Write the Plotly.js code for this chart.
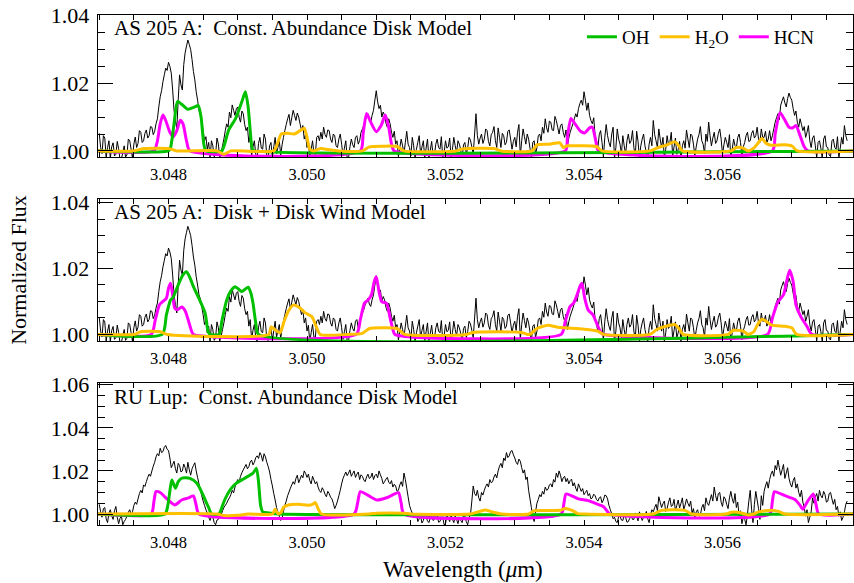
<!DOCTYPE html>
<html>
<head>
<meta charset="utf-8">
<script src="https://cdn.plot.ly/plotly-3.0.1.min.js"></script>
<style>html,body{margin:0;padding:0;background:#fff;}#chart{width:854px;height:583px;}</style>
</head>
<body>
<div id="chart"></div>
<script>
// ---- observed spectra (normalized flux), uniform wavelength grid ----
const waveStart = 3.04700;   // micron
const waveStep = 0.00002;    // micron

const as205Flux = [
1.0052,1.0010,0.9992,1.0045,1.0038,0.9980,1.0010,1.0030,0.9978,1.0012,1.0024,0.9985,0.9990,1.0028,1.0006,0.9975,0.9976,0.9995,1.0015,0.9982,
0.9988,1.0035,1.0030,1.0005,0.9979,1.0020,1.0041,1.0010,1.0022,1.0060,1.0055,1.0025,1.0030,1.0052,1.0062,1.0038,1.0045,1.0072,1.0070,1.0048,
1.0058,1.0080,1.0095,1.0130,1.0160,1.0178,1.0205,1.0225,1.0245,1.0238,1.0262,1.0250,1.0230,1.0180,1.0120,1.0090,1.0065,1.0150,1.0225,1.0195,
1.0180,1.0255,1.0290,1.0310,1.0328,1.0315,1.0300,1.0270,1.0235,1.0210,1.0175,1.0150,1.0120,1.0108,1.0085,1.0060,1.0030,1.0042,1.0005,1.0025,
0.9978,1.0030,1.0015,0.9982,0.9990,1.0038,1.0020,0.9980,0.9995,1.0015,1.0035,1.0060,1.0080,1.0070,1.0115,1.0098,1.0136,1.0120,1.0105,1.0125,
1.0130,1.0100,1.0085,1.0118,1.0110,1.0078,1.0060,1.0070,1.0025,1.0045,0.9985,1.0012,1.0030,0.9990,0.9977,1.0022,1.0040,1.0008,1.0005,1.0050,
1.0035,0.9985,0.9981,1.0015,1.0025,0.9978,1.0012,1.0040,0.9992,1.0010,1.0030,0.9988,1.0018,1.0040,1.0060,1.0078,1.0095,1.0108,1.0075,1.0098,
1.0120,1.0105,1.0090,1.0112,1.0100,1.0080,1.0060,1.0075,1.0035,1.0050,1.0010,1.0028,0.9978,1.0005,1.0030,0.9992,0.9990,1.0040,1.0045,1.0030,
1.0055,1.0035,1.0070,1.0048,1.0040,1.0062,1.0060,1.0035,1.0025,1.0050,1.0045,1.0015,1.0010,1.0035,1.0050,1.0020,0.9985,1.0008,1.0030,0.9980,
0.9980,1.0012,1.0035,1.0018,1.0010,1.0040,1.0045,1.0020,1.0030,1.0055,1.0065,1.0075,1.0090,1.0100,1.0110,1.0092,1.0085,1.0105,1.0120,1.0150,
1.0178,1.0145,1.0125,1.0135,1.0100,1.0115,1.0105,1.0082,1.0070,1.0095,1.0080,1.0055,1.0040,1.0058,1.0020,1.0030,0.9983,1.0010,1.0035,1.0015,
0.9992,1.0025,1.0058,1.0020,1.0010,0.9985,1.0040,1.0015,0.9977,1.0005,1.0025,1.0045,0.9990,1.0012,1.0030,0.9980,1.0008,1.0035,0.9978,1.0002,
1.0028,0.9986,0.9988,1.0020,1.0035,1.0010,1.0005,1.0042,0.9979,0.9995,1.0030,1.0008,1.0012,1.0038,0.9982,1.0005,1.0040,1.0015,0.9995,1.0030,
1.0020,1.0002,0.9977,1.0018,1.0025,0.9990,1.0008,1.0040,1.0032,1.0012,0.9990,1.0050,1.0110,1.0045,1.0020,1.0038,1.0050,1.0022,1.0035,1.0065,
1.0060,1.0028,1.0015,1.0048,1.0055,1.0072,1.0030,1.0010,1.0068,1.0040,1.0010,1.0052,1.0045,1.0018,1.0025,1.0058,1.0062,1.0035,1.0005,1.0028,
1.0040,1.0012,1.0055,1.0078,0.9985,1.0030,1.0065,1.0042,1.0020,1.0050,1.0035,1.0008,0.9978,1.0025,1.0030,0.9990,1.0010,1.0045,1.0050,1.0030,
1.0070,1.0052,1.0095,1.0068,1.0055,1.0088,1.0085,1.0062,1.0060,1.0102,1.0090,1.0070,1.0050,1.0075,1.0080,1.0055,1.0040,1.0062,1.0015,1.0038,
1.0055,1.0068,1.0080,1.0095,1.0110,1.0100,1.0125,1.0140,1.0150,1.0135,1.0175,1.0150,1.0120,1.0142,1.0105,1.0090,1.0080,1.0098,1.0045,1.0030,
1.0010,1.0048,1.0060,1.0025,0.9982,1.0040,1.0078,1.0045,1.0025,1.0012,1.0050,1.0070,0.9978,1.0010,1.0065,1.0035,1.0020,0.9990,1.0045,1.0015,
0.9990,1.0030,1.0050,1.0022,1.0030,1.0060,1.0010,0.9985,1.0058,1.0028,0.9980,1.0015,1.0035,1.0050,1.0015,0.9995,0.9977,1.0020,1.0040,1.0015,
1.0090,1.0048,1.0030,1.0010,1.0065,1.0035,1.0010,1.0040,0.9978,1.0005,1.0045,1.0018,1.0025,1.0055,0.9985,1.0012,1.0038,0.9990,1.0005,1.0028,
0.9979,1.0015,1.0030,1.0008,1.0062,1.0035,1.0010,1.0050,1.0045,1.0020,0.9986,1.0012,1.0035,1.0048,1.0072,1.0030,1.0020,0.9992,1.0050,1.0028,
1.0085,1.0045,1.0015,1.0038,1.0055,1.0022,1.0030,1.0052,1.0065,1.0035,0.9990,1.0018,1.0040,1.0025,1.0010,1.0048,0.9978,1.0005,1.0035,1.0015,
1.0010,1.0040,1.0050,1.0025,0.9984,1.0012,1.0025,1.0045,1.0055,1.0028,1.0030,1.0052,1.0060,1.0038,1.0045,1.0070,1.0035,1.0025,1.0065,1.0040,
1.0040,1.0058,1.0025,1.0035,1.0060,1.0030,1.0045,1.0065,1.0085,1.0098,1.0110,1.0092,1.0135,1.0148,1.0160,1.0142,1.0130,1.0155,1.0171,1.0158,
1.0150,1.0125,1.0105,1.0118,1.0085,1.0070,1.0095,1.0078,1.0060,1.0072,1.0040,1.0055,1.0075,1.0030,1.0010,1.0038,1.0045,1.0015,0.9980,1.0025,
1.0030,1.0008,0.9978,1.0035,1.0045,1.0012,1.0010,0.9988,0.9983,1.0030,1.0035,1.0010,1.0005,1.0042,0.9979,1.0008,1.0040,1.0020,1.0075,1.0045,
1.0030
];

const ruLupFlux = [
1.0045,1.0010,0.9985,1.0025,1.0030,0.9978,0.9960,1.0005,1.0020,0.9992,0.9975,1.0015,1.0035,0.9985,0.9955,0.9980,0.9990,0.9950,0.9965,0.9975,
0.9990,1.0008,1.0020,0.9998,1.0010,1.0040,1.0055,1.0045,1.0070,1.0095,1.0110,1.0098,1.0135,1.0128,1.0150,1.0170,1.0185,1.0175,1.0200,1.0222,
1.0240,1.0265,1.0280,1.0270,1.0305,1.0285,1.0290,1.0310,1.0318,1.0300,1.0295,1.0260,1.0215,1.0230,1.0245,1.0210,1.0190,1.0235,1.0225,1.0195,
1.0200,1.0232,1.0215,1.0190,1.0240,1.0205,1.0180,1.0210,1.0225,1.0238,1.0200,1.0170,1.0140,1.0112,1.0085,1.0060,1.0040,1.0020,1.0005,0.9985,
0.9970,0.9990,0.9985,0.9960,0.9950,0.9972,0.9975,0.9988,0.9995,1.0015,1.0030,1.0040,1.0050,1.0065,1.0075,1.0090,1.0110,1.0098,1.0125,1.0145,
1.0160,1.0150,1.0175,1.0192,1.0205,1.0218,1.0230,1.0210,1.0220,1.0242,1.0250,1.0228,1.0240,1.0262,1.0270,1.0258,1.0285,1.0272,1.0245,1.0280,
1.0265,1.0240,1.0220,1.0195,1.0160,1.0130,1.0095,1.0065,1.0030,1.0008,0.9990,0.9970,0.9980,1.0012,1.0040,1.0060,1.0085,1.0102,1.0120,1.0135,
1.0150,1.0138,1.0165,1.0180,1.0145,1.0162,1.0180,1.0168,1.0200,1.0188,1.0170,1.0185,1.0155,1.0140,1.0175,1.0158,1.0140,1.0150,1.0125,1.0108,
1.0100,1.0122,1.0110,1.0092,1.0080,1.0105,1.0095,1.0078,1.0070,1.0050,1.0025,1.0040,1.0060,1.0085,1.0110,1.0140,1.0165,1.0180,1.0195,1.0178,
1.0190,1.0205,1.0175,1.0188,1.0200,1.0170,1.0185,1.0195,1.0160,1.0182,1.0175,1.0158,1.0150,1.0172,1.0185,1.0165,1.0170,1.0190,1.0160,1.0178,
1.0185,1.0168,1.0200,1.0182,1.0165,1.0140,1.0150,1.0162,1.0170,1.0148,1.0140,1.0155,1.0125,1.0138,1.0130,1.0105,1.0110,1.0135,1.0150,1.0128,
1.0190,1.0160,1.0120,1.0080,1.0040,1.0020,1.0005,0.9990,0.9985,1.0002,0.9965,0.9978,0.9990,0.9958,0.9970,0.9995,0.9985,0.9968,0.9960,0.9982,
0.9990,0.9970,0.9975,1.0002,0.9995,0.9962,0.9965,0.9985,0.9985,0.9950,0.9955,0.9992,0.9980,0.9965,0.9992,0.9975,0.9960,0.9990,0.9975,0.9955,
0.9985,0.9970,0.9960,0.9995,0.9990,0.9965,0.9950,0.9985,0.9995,1.0060,1.0130,1.0095,1.0085,1.0110,1.0075,1.0060,1.0100,1.0088,1.0110,1.0128,
1.0140,1.0125,1.0160,1.0145,1.0150,1.0172,1.0185,1.0168,1.0200,1.0222,1.0235,1.0215,1.0260,1.0248,1.0285,1.0262,1.0270,1.0290,1.0295,1.0275,
1.0260,1.0240,1.0230,1.0255,1.0245,1.0215,1.0190,1.0205,1.0160,1.0172,1.0110,1.0070,1.0030,0.9985,0.9965,1.0010,1.0050,1.0068,1.0090,1.0080,
1.0105,1.0092,1.0125,1.0110,1.0115,1.0135,1.0140,1.0125,1.0160,1.0148,1.0190,1.0170,1.0200,1.0180,1.0150,1.0168,1.0175,1.0150,1.0165,1.0140,
1.0155,1.0162,1.0130,1.0145,1.0120,1.0105,1.0140,1.0122,1.0105,1.0118,1.0090,1.0100,1.0110,1.0085,1.0095,1.0070,1.0075,1.0092,1.0085,1.0068,
1.0060,1.0075,1.0080,1.0052,1.0065,1.0088,1.0085,1.0070,1.0040,1.0020,1.0000,0.9978,0.9985,0.9965,0.9960,0.9988,0.9990,0.9972,0.9970,0.9995,
0.9985,0.9962,0.9965,0.9980,0.9995,0.9975,0.9975,1.0005,0.9988,0.9968,1.0010,0.9990,0.9970,0.9985,0.9992,1.0012,0.9978,0.9960,0.9995,1.0020,
1.0010,1.0030,1.0045,1.0015,1.0080,1.0055,1.0030,1.0048,1.0060,1.0012,1.0025,1.0055,1.0075,1.0035,1.0040,1.0068,1.0015,1.0040,1.0065,1.0028,
1.0050,1.0075,1.0020,1.0042,1.0070,1.0050,1.0035,1.0060,1.0005,1.0025,0.9985,1.0010,1.0020,0.9990,0.9995,1.0030,1.0045,1.0015,1.0075,1.0050,
1.0040,1.0065,1.0090,1.0060,1.0125,1.0085,1.0060,1.0095,1.0100,1.0055,1.0035,1.0080,1.0070,1.0045,1.0025,1.0075,1.0105,1.0070,1.0050,1.0095,
1.0030,1.0055,0.9990,1.0015,0.9955,0.9985,0.9975,0.9950,1.0000,1.0060,1.0110,1.0020,0.9960,1.0045,1.0105,1.0065,1.0025,0.9975,1.0085,1.0040,
1.0105,1.0130,1.0150,1.0120,1.0160,1.0185,1.0200,1.0175,1.0225,1.0205,1.0250,1.0215,1.0180,1.0205,1.0230,1.0165,1.0190,1.0215,1.0165,1.0140,
1.0125,1.0155,1.0170,1.0120,1.0140,1.0100,1.0080,1.0110,1.0055,1.0030,0.9990,1.0020,0.9960,0.9985,1.0010,1.0075,1.0050,1.0080,1.0095,1.0060,
1.0110,1.0085,1.0075,1.0105,1.0090,1.0055,1.0060,1.0095,1.0100,1.0070,1.0045,1.0068,1.0020,1.0035,0.9990,1.0010,0.9970,0.9985,1.0010,1.0045,
1.0060
];

// ---- model spectra: [wavelength, normalized flux] ----
const ohConstDisk = [[3.04698,1],[3.04800,1],[3.04803,1.0010],[3.04808,1.0080],[3.04813,1.0146],[3.04819,1.0138],[3.04828,1.0123],[3.04838,1.0130],[3.04843,1.0134],[3.04847,1.0100],[3.04851,1.0020],[3.04854,1],
 [3.04877,1],[3.04881,1.0020],[3.04887,1.0062],[3.04897,1.0096],[3.04906,1.0146],[3.04911,1.0175],[3.04915,1.0130],[3.04918,1.0060],[3.04921,1.0005],[3.04924,1],[3.05789,1]];
const hcnConstDisk = [[3.04698,1],[3.04779,1],[3.04784,1.0030],[3.04788,1.0080],[3.04792,1.0106],[3.04796,1.0090],[3.04802,1.0055],[3.04807,1.0042],[3.04812,1.0060],[3.04817,1.0091],[3.04821,1.0080],[3.04826,1.0030],[3.04831,1],
 [3.05077,1],[3.05081,1.0050],[3.05086,1.0111],[3.05092,1.0085],[3.05100,1.0057],[3.05107,1.0075],[3.05113,1.0106],[3.05118,1.0070],[3.05122,1.0020],[3.05126,1],
 [3.05373,1],[3.05376,1.0040],[3.05381,1.0096],[3.05387,1.0080],[3.05395,1.0058],[3.05401,1.0053],[3.05408,1.0068],[3.05412,1.0070],[3.05417,1.0030],[3.05421,1],
 [3.05672,1],[3.05676,1.0050],[3.05683,1.0113],[3.05689,1.0095],[3.05696,1.0070],[3.05701,1.0068],[3.05706,1.0075],[3.05712,1.0045],[3.05718,1.0012],[3.05723,1],[3.05789,1]];
const h2oConstDisk = [[3.04698,1],[3.04750,1],[3.04765,1.0007],[3.04800,1.0007],[3.04812,1],[3.04870,1],[3.04880,0.9990],[3.04890,1],
 [3.04952,1],[3.04957,1.0020],[3.04963,1.0050],[3.04972,1.0052],[3.04982,1.0050],[3.04990,1.0060],[3.04996,1.0067],[3.05000,1.0040],[3.05004,1.0005],[3.05010,1],[3.05020,1.0007],[3.05030,1.0004],[3.05045,1],
 [3.05080,1],[3.05090,1.0012],[3.05110,1.0014],[3.05130,1.0013],[3.05140,1],[3.05215,1],[3.05225,1.0006],[3.05270,1.0007],[3.05280,1],
 [3.05325,1],[3.05332,1.0018],[3.05350,1.0020],[3.05365,1.0024],[3.05370,1.0010],[3.05376,1.0015],[3.05395,1.0015],[3.05418,1.0013],[3.05426,1],
 [3.05495,1],[3.05505,1.0008],[3.05520,1.0018],[3.05531,1.0027],[3.05537,1.0015],[3.05542,1],
 [3.05612,1],[3.05620,1.0010],[3.05630,1.0008],[3.05637,1],[3.05645,1.0008],[3.05652,1.0025],[3.05657,1.0037],[3.05663,1.0022],[3.05670,1.0017],[3.05690,1.0018],[3.05700,1.0015],[3.05708,1],[3.05789,1]];

const ohDiskWind = [[3.04698,1],[3.04791,1],[3.04797,1.0060],[3.04803,1.0105],[3.04806,1.0110],[3.04814,1.0150],[3.04820,1.0178],[3.04826,1.0190],[3.04831,1.0172],[3.04836,1.0145],[3.04845,1.0104],[3.04853,1.0064],[3.04857,1.0010],[3.04860,1],
 [3.04873,1],[3.04877,1.0040],[3.04884,1.0104],[3.04890,1.0132],[3.04896,1.0145],[3.04901,1.0138],[3.04906,1.0130],[3.04911,1.0138],[3.04915,1.0143],[3.04919,1.0125],[3.04922,1.0095],[3.04926,1.0035],[3.04930,1],[3.05789,1]];
const hcnDiskWind = [[3.04698,1],[3.04775,1],[3.04781,1.0045],[3.04787,1.0090],[3.04792,1.0100],[3.04797,1.0110],[3.04800,1.0140],[3.04803,1.0155],[3.04806,1.0120],[3.04809,1.0080],[3.04813,1.0075],[3.04819,1.0083],[3.04824,1.0072],[3.04829,1.0040],[3.04833,1.0012],[3.04836,1],
 [3.05071,1],[3.05077,1.0045],[3.05083,1.0095],[3.05088,1.0104],[3.05093,1.0120],[3.05097,1.0160],[3.05100,1.0175],[3.05104,1.0130],[3.05108,1.0099],[3.05115,1.0094],[3.05120,1.0050],[3.05124,1.0015],[3.05127,1],
 [3.05367,1],[3.05373,1.0040],[3.05380,1.0085],[3.05385,1.0095],[3.05390,1.0120],[3.05394,1.0145],[3.05397,1.0155],[3.05401,1.0110],[3.05406,1.0074],[3.05413,1.0059],[3.05419,1.0030],[3.05424,1.0008],[3.05428,1],
 [3.05665,1],[3.05672,1.0050],[3.05680,1.0099],[3.05688,1.0120],[3.05693,1.0165],[3.05697,1.0195],[3.05702,1.0160],[3.05706,1.0090],[3.05713,1.0054],[3.05722,1.0024],[3.05729,1],[3.05789,1]];
const h2oDiskWind = [[3.04698,1],[3.04750,1],[3.04760,1.0008],[3.04788,1.0008],[3.04798,1],
 [3.04945,1],[3.04948,1.0023],[3.04953,1.0015],[3.04961,1.0005],[3.04967,1.0040],[3.04973,1.0070],[3.04980,1.0089],[3.04990,1.0080],[3.04997,1.0066],[3.05007,1.0054],[3.05013,1.0025],[3.05019,1],
 [3.05060,1],[3.05080,1.0003],[3.05090,1.0018],[3.05110,1.0020],[3.05130,1.0018],[3.05141,1],[3.05230,1],[3.05240,1.0006],[3.05310,1.0006],[3.05318,1],
 [3.05322,1],[3.05332,1.0018],[3.05348,1.0028],[3.05362,1.0022],[3.05373,1.0020],[3.05400,1.0016],[3.05420,1.0010],[3.05428,1],
 [3.05495,1],[3.05505,1.0015],[3.05517,1.0024],[3.05531,1.0030],[3.05538,1.0015],[3.05543,1],
 [3.05608,1],[3.05615,1.0012],[3.05630,1.0010],[3.05637,1],[3.05645,1.0008],[3.05652,1.0035],[3.05657,1.0046],[3.05663,1.0040],[3.05671,1.0028],[3.05690,1.0025],[3.05700,1.0020],[3.05707,1],[3.05789,1]];

const ohRuLup = [[3.04698,1],[3.04795,1],[3.04799,1.0040],[3.04803,1.0130],[3.04805,1.0158],[3.04810,1.0120],[3.04814,1.0150],[3.04819,1.0166],[3.04825,1.0168],[3.04831,1.0165],[3.04841,1.0143],[3.04850,1.0088],[3.04855,1.0050],[3.04858,1.0030],[3.04862,1],
 [3.04873,1],[3.04877,1.0030],[3.04881,1.0065],[3.04889,1.0112],[3.04898,1.0143],[3.04910,1.0166],[3.04922,1.0190],[3.04927,1.0212],[3.04930,1.0150],[3.04933,1.0040],[3.04936,1.0010],[3.04945,1.0005],[3.04960,1],[3.05789,1]];
const hcnRuLup = [[3.04698,1],[3.04775,1],[3.04779,1.0060],[3.04782,1.0104],[3.04788,1.0100],[3.04797,1.0073],[3.04809,1.0042],[3.04819,1.0065],[3.04829,1.0075],[3.04836,1.0084],[3.04840,1.0040],[3.04844,1],
 [3.05068,1],[3.05073,1.0050],[3.05077,1.0104],[3.05089,1.0085],[3.05101,1.0065],[3.05117,1.0078],[3.05132,1.0099],[3.05136,1.0050],[3.05140,1],
 [3.05367,1],[3.05371,1.0050],[3.05374,1.0093],[3.05392,1.0070],[3.05406,1.0062],[3.05420,1.0045],[3.05428,1.0035],[3.05433,1.0015],[3.05437,1],
 [3.05668,1],[3.05672,1.0060],[3.05675,1.0104],[3.05690,1.0085],[3.05704,1.0068],[3.05712,1.0040],[3.05716,1.0022],[3.05723,1.0060],[3.05731,1.0093],[3.05735,1.0045],[3.05739,1],[3.05789,1]];
const h2oRuLup = [[3.04698,1],[3.04870,1],[3.04880,0.9993],[3.04900,0.9994],[3.04915,1],
 [3.04950,1],[3.04954,1.0022],[3.04958,1.0002],[3.04962,1.0005],[3.04966,1.0031],[3.04973,1.0042],[3.04987,1.0045],[3.05002,1.0041],[3.05008,1.0045],[3.05012,1.0053],[3.05016,1.0025],[3.05021,1],
 [3.05090,1],[3.05100,1.0004],[3.05140,1.0004],[3.05150,1],[3.05235,1],[3.05245,1.0008],[3.05257,1.0019],[3.05267,1.0010],[3.05281,1],
 [3.05320,1],[3.05328,1.0015],[3.05365,1.0017],[3.05373,1.0026],[3.05382,1.0018],[3.05391,1.0002],[3.05400,1],
 [3.05500,1],[3.05512,1.0017],[3.05546,1.0017],[3.05555,1],[3.05605,1],[3.05613,1.0008],[3.05622,1.0008],[3.05632,1],[3.05637,0.9995],[3.05645,1],
 [3.05652,1.0010],[3.05671,1.0018],[3.05681,1.0012],[3.05690,1],[3.05789,1]];

const panelTitles = ['AS 205 A:\u00a0 Const. Abundance Disk Model', 'AS 205 A:\u00a0 Disk + Disk Wind Model', 'RU Lup:\u00a0 Const. Abundance Disk Model'];
const speciesNames = ['OH', 'H<sub>2</sub>O', 'HCN'];
const speciesColors = ['#00C000', '#FFC000', '#FF00FF'];
const xTickStart = 3.048, xTickStep = 0.002, xMinorStep = 0.0005;
const yTickStep = 0.02, yMinorStep = 0.005;
const xTitle = 'Wavelength (<i>μ</i>m)';
const yTitle = 'Normalized Flux';

// ---- build traces ----
const traces = [];
const panels = [
  {ax: '', obs: as205Flux, oh: ohConstDisk, h2o: h2oConstDisk, hcn: hcnConstDisk},
  {ax: '2', obs: as205Flux, oh: ohDiskWind, h2o: h2oDiskWind, hcn: hcnDiskWind},
  {ax: '3', obs: ruLupFlux, oh: ohRuLup, h2o: h2oRuLup, hcn: hcnRuLup}
];
panels.forEach((p, k) => {
  const xa = 'x' + p.ax, ya = 'y' + p.ax;
  traces.push({type: 'scatter', mode: 'lines', x0: waveStart, dx: waveStep, y: p.obs,
    xaxis: xa, yaxis: ya, line: {color: 'black', width: 1, simplify: false}, showlegend: false, hoverinfo: 'skip'});
  const model = (data, idx, rank) => ({type: 'scatter', mode: 'lines',
    x: data.map(d => d[0]), y: data.map(d => d[1]), xaxis: xa, yaxis: ya,
    name: speciesNames[idx], legendrank: rank, showlegend: k === 0,
    line: {color: speciesColors[idx], width: 3, shape: 'spline', smoothing: 0.6}});
  traces.push(model(p.hcn, 2, 3));
  traces.push(model(p.oh, 0, 1));
  traces.push(model(p.h2o, 1, 2));
});

const fontFam = '"Liberation Serif", "Times New Roman", Times, serif';
function xAxis(anchor) {
  return {
    anchor: anchor, range: [3.046982, 3.057884], tick0: xTickStart, dtick: xTickStep, tickformat: '.3f',
    ticks: 'inside', ticklen: 5, tickwidth: 1, tickcolor: 'black',
    showline: true, linecolor: 'black', linewidth: 1.3, mirror: 'allticks',
    showgrid: false, zeroline: false, tickfont: {size: 16.5, family: fontFam, color: 'black'},
    ticklabelstandoff: 2,
    minor: {tick0: xTickStart, dtick: xMinorStep, ticks: 'inside', ticklen: 5, tickcolor: 'black', showgrid: false}
  };
}
function yAxis(anchor, domain, range, extra) {
  return Object.assign({
    anchor: anchor, domain: domain, range: range, tick0: 1.0, dtick: yTickStep, tickformat: '.2f',
    ticks: 'inside', ticklen: 15, tickwidth: 1, tickcolor: 'black',
    showline: true, linecolor: 'black', linewidth: 1.3, mirror: 'allticks',
    showgrid: false, zeroline: false, tickfont: {size: 22, family: fontFam, color: 'black'},
    ticklabelstandoff: 3,
    minor: {tick0: 1.0, dtick: yMinorStep, ticks: 'inside', ticklen: 7, tickcolor: 'black', showgrid: false}
  }, extra || {});
}

const annotations = panelTitles.map((t, k) => ({
  text: t, xref: (k === 0 ? 'x' : 'x' + (k + 1)) + ' domain', yref: (k === 0 ? 'y' : 'y' + (k + 1)) + ' domain',
  x: 0.018, y: 0.905, xanchor: 'left', yanchor: 'middle', showarrow: false,
  font: {size: 21, family: fontFam, color: 'black'}
}));
annotations.push({text: xTitle, xref: 'paper', yref: 'paper', x: 0.4834, y: -0.088,
  xanchor: 'center', yanchor: 'middle', showarrow: false, font: {size: 23, family: fontFam, color: 'black'}});

const layout = {
  width: 854, height: 583,
  margin: {l: 98, r: 1, t: 15, b: 58},
  paper_bgcolor: 'white', plot_bgcolor: 'white',
  font: {family: fontFam, color: 'black'},
  showlegend: true,
  legend: {orientation: 'h', x: 0.641, y: 0.957, xanchor: 'left', yanchor: 'middle',
    font: {size: 19, family: fontFam, color: 'black'}, bgcolor: 'rgba(0,0,0,0)', traceorder: 'normal'},
  xaxis: xAxis('y'),
  xaxis2: xAxis('y2'),
  xaxis3: xAxis('y3'),
  yaxis: yAxis('x', [0.7216, 1], [0.9982, 1.0402]),
  yaxis2: yAxis('x2', [0.3608, 0.6392], [0.9980, 1.0411], {title: {text: yTitle, font: {size: 22, family: fontFam}, standoff: 18}}),
  yaxis3: yAxis('x3', [0, 0.2784], [0.9949, 1.0608]),
  annotations: annotations
};

Plotly.newPlot('chart', traces, layout, {staticPlot: true, displayModeBar: false});
</script>
</body>
</html>
